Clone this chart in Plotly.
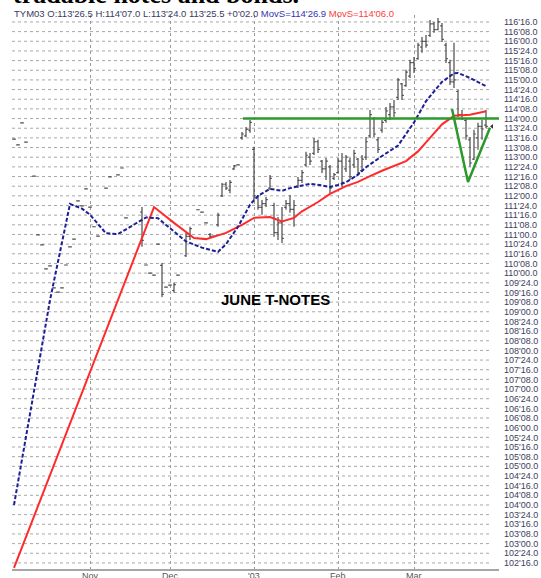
import plotly.graph_objects as go

# ---- bar data (trading-day index, OHLC) ----
day = [3, 4, 5, 6, 8, 9, 10, 11, 12, 13, 14, 15, 16, 17, 18, 19, 20, 21, 22, 23, 24, 26, 27, 29, 30, 31,
       35, 36, 37, 38, 39, 40, 41, 42, 43, 44, 46, 47, 49, 50, 51, 52, 53, 54, 55, 56, 57, 58, 59,
       60, 61, 62, 63, 64, 65, 66, 67, 68, 69, 70, 71, 72, 73, 74, 75, 76, 77, 78, 79, 80,
       81, 82, 83, 84, 85, 86, 87, 88, 89, 90, 91, 92, 93, 94, 95, 96, 97, 98, 99, 100,
       101, 102, 103, 104, 105, 106, 107, 108, 109, 110, 111, 112, 113, 114, 115, 116, 117, 118, 119, 120, 121]

open_ = [113.47, 113.32, 113.89, 113.39, 112.51, 110.99, 110.73, 110.11, 110.19, 109.62, 109.51, 109.62, 110.21,
         110.68, 110.88, 111.87, 111.74, 112.18, 111.71, 111.20, 110.96, 112.20, 112.49, 112.54, 112.72, 111.43,
         111.58, 110.21, 110.00, 109.95, 110.75, 110.20, 109.64, 109.69, 109.55, 109.95, 110.45, 110.95, 111.64,
         111.58, 111.30, 111.00, 110.96, 111.25, 112.00, 112.30, 112.15, 112.70, 112.80,
         113.50, 113.55, 113.70, 113.20, 111.95, 111.70, 111.80, 112.20, 111.75, 111.05, 111.30, 111.70, 111.80,
         111.65, 112.25, 112.40, 112.80, 113.00, 113.10, 113.40, 112.90,
         112.70, 112.75, 112.45, 112.60, 112.90, 112.70, 112.90, 112.80, 112.95, 112.65, 113.00, 113.55, 114.00,
         113.45, 113.70, 113.95, 114.10, 114.30, 114.55, 114.90,
         114.85, 115.10, 115.45, 115.55, 115.85, 116.00, 116.15, 116.45, 116.30, 116.40, 115.90, 115.45, 114.95,
         114.70, 114.10, 113.95, 113.45, 112.95, 113.50, 113.80, 113.828125]

high = [113.47, 113.32, 113.89, 113.39, 112.51, 110.99, 110.73, 110.11, 110.19, 109.62, 109.51, 109.62, 110.21,
        110.68, 110.88, 111.87, 111.74, 112.18, 111.71, 111.20, 110.96, 112.20, 112.49, 112.54, 112.72, 111.43,
        111.71, 110.21, 110.00, 109.95, 110.75, 110.26, 109.64, 109.69, 109.75, 109.95, 111.04, 111.20, 111.64,
        111.58, 111.30, 111.04, 110.96, 111.56, 112.33, 112.36, 112.41, 112.80, 112.80,
        113.65, 113.78, 113.96, 113.27, 112.02, 111.89, 111.97, 112.54, 111.82, 111.45, 111.71, 111.89, 112.02,
        111.89, 112.49, 112.67, 113.14, 113.11, 113.50, 113.45, 112.93,
        112.98, 112.80, 112.59, 112.98, 113.11, 113.06, 112.98, 113.19, 112.98, 113.06, 113.52, 114.22, 114.04,
        113.52, 113.96, 114.30, 114.40, 114.48, 115.05, 114.92,
        115.26, 115.52, 115.59, 115.96, 116.11, 116.16, 116.55, 116.50, 116.60, 116.47, 115.96, 115.52, 115.96,
        114.74, 114.22, 114.01, 113.52, 113.71, 113.89, 113.96, 114.21875]

low = [113.47, 113.32, 113.89, 113.39, 112.51, 110.99, 110.73, 110.11, 110.19, 109.62, 109.51, 109.62, 110.21,
       110.68, 110.88, 111.87, 111.74, 112.18, 111.71, 111.20, 110.96, 112.20, 112.49, 112.54, 112.72, 111.43,
       110.68, 110.21, 110.00, 109.95, 110.75, 109.38, 109.64, 109.69, 109.49, 109.95, 110.42, 110.86, 111.64,
       111.58, 111.30, 110.91, 110.96, 111.20, 111.97, 112.15, 112.07, 112.67, 112.80,
       113.45, 113.52, 113.63, 111.89, 111.64, 111.51, 111.71, 112.15, 110.94, 110.86, 110.78, 111.64, 111.56,
       111.20, 112.20, 112.33, 112.75, 112.80, 113.06, 113.11, 112.59,
       112.41, 112.07, 112.41, 112.59, 112.23, 112.62, 112.41, 112.72, 112.54, 112.62, 112.93, 113.50, 113.52,
       113.11, 113.63, 113.89, 113.96, 114.04, 114.48, 114.48,
       114.82, 115.05, 115.18, 115.52, 115.70, 115.83, 116.11, 116.22, 116.29, 115.98, 115.44, 114.87, 114.79,
       114.04, 113.96, 113.45, 112.75, 112.93, 113.19, 113.45, 113.75]

close = [113.47, 113.32, 113.89, 113.39, 112.51, 110.99, 110.73, 110.11, 110.19, 109.62, 109.51, 109.62, 110.21,
         110.68, 110.88, 111.87, 111.74, 112.18, 111.71, 111.20, 110.96, 112.20, 112.49, 112.54, 112.72, 111.43,
         110.85, 110.21, 110.00, 109.95, 110.75, 109.45, 109.64, 109.69, 109.70, 109.95, 110.95, 111.15, 111.64,
         111.58, 111.30, 110.95, 110.96, 111.50, 112.30, 112.20, 112.35, 112.78, 112.80,
         113.60, 113.72, 113.90, 112.00, 111.70, 111.80, 111.90, 112.45, 111.05, 111.30, 110.90, 111.80, 111.65,
         111.75, 112.40, 112.60, 113.05, 112.90, 113.40, 113.20, 112.70,
         112.90, 112.20, 112.55, 112.90, 112.35, 113.00, 112.50, 113.10, 112.60, 112.95, 113.40, 114.10, 113.60,
         113.20, 113.90, 114.20, 114.30, 114.15, 115.00, 114.60,
         115.20, 115.45, 115.30, 115.90, 116.00, 115.90, 116.45, 116.30, 116.50, 116.05, 115.55, 114.95, 115.00,
         114.10, 114.00, 113.55, 112.85, 113.60, 113.80, 113.73, 113.796875]

# ---- moving averages ----
fast_x = [3, 12, 17, 20, 22, 26, 29, 33, 36, 39, 42, 46, 50, 54, 56, 59, 62, 64, 67, 70, 72, 75, 77, 80,
          82, 84, 86, 89, 91, 95, 99, 103, 106, 110, 113, 114, 117, 121]
fast_y = [104.00, 109.30, 111.79, 111.67, 111.51, 111.03, 111.01, 111.25, 111.44, 111.42, 111.17, 110.82,
          110.66, 110.55, 110.75, 111.20, 111.77, 112.00, 112.18, 112.13, 112.20, 112.26, 112.31, 112.27,
          112.23, 112.28, 112.35, 112.55, 112.74, 113.03, 113.30, 113.90, 114.45, 114.95, 115.17, 115.18,
          115.05, 114.84]

slow_x = [3, 38, 43, 48, 51, 56, 60, 63, 67, 70, 73, 75, 79, 82, 86, 89, 92, 95, 101, 104, 107, 110, 113, 117, 121]
slow_y = [102.37, 111.71, 111.30, 110.91, 110.88, 111.04, 111.25, 111.43, 111.45, 111.34, 111.43, 111.60,
          111.84, 112.05, 112.25, 112.36, 112.51, 112.65, 112.90, 113.15, 113.50, 113.85, 114.07, 114.10, 114.1875]

# ---- trend lines ----
resist_x = [60.25, 125]
resist_y = [114.00, 114.00]
vee_x = [112.5, 116.5, 122]
vee_y = [114.25, 112.36, 113.76]

# ---- axes ----
month_pos = [22, 42, 63, 84, 103]
month_lab = ["Nov", "Dec", "'03", "Feb", "Mar"]
price_ticks = [102.5 + 0.25 * k for k in range(57)]
price_text = [f"{int(v)}'{round((v - int(v)) * 32):02d}.0" for v in price_ticks]

header = ("<span style='color:#3a3a62'>TYM03 O:113'26.5 H:114'07.0 L:113'24.0 113'25.5 +0'02.0 </span>"
          "<span style='color:#3434b4'>MovS=114'26.9</span> "
          "<span style='color:#ff3c3c'>MovS=114'06.0</span>")

X0, X1 = 2.5, 124.25
Y0, Y1 = 102.343, 116.68
PLOT_H = 554.0

fig = go.Figure()

fig.add_trace(go.Ohlc(
    x=day, open=open_, high=high, low=low, close=close,
    increasing=dict(line=dict(color="#4a4a4a", width=1.2)),
    decreasing=dict(line=dict(color="#4a4a4a", width=1.2)),
    tickwidth=0.45, showlegend=False, hoverinfo="skip"))

fig.add_trace(go.Scatter(x=slow_x, y=slow_y, mode="lines",
                         line=dict(color="#ff2b2b", width=2), showlegend=False, hoverinfo="skip"))
fig.add_trace(go.Scatter(x=fast_x, y=fast_y, mode="lines",
                         line=dict(color="#1e1e98", width=2, dash="4px,2px"), showlegend=False, hoverinfo="skip"))
fig.add_trace(go.Scatter(x=resist_x, y=resist_y, mode="lines",
                         line=dict(color="#2b9a2b", width=2.5), showlegend=False, hoverinfo="skip"))
fig.add_trace(go.Scatter(x=vee_x, y=vee_y, mode="lines",
                         line=dict(color="#2b9a2b", width=2.5), showlegend=False, hoverinfo="skip"))
fig.add_trace(go.Scatter(x=[day[-1] + 1.5], y=[close[-1]], mode="markers",
                         marker=dict(symbol="triangle-left", size=4, color="#333333"),
                         showlegend=False, hoverinfo="skip"))

shapes = []
for v in price_ticks:
    shapes.append(dict(type="line", xref="x", yref="y", x0=X0, x1=122, y0=v, y1=v,
                       line=dict(color="#a8a8a8", width=1, dash="dot"), layer="below"))

annotations = [
    dict(text=header, xref="paper", yref="paper", x=0, y=(569 - 14) / PLOT_H,
         xanchor="left", yanchor="middle", showarrow=False,
         font=dict(family="Liberation Sans, Arial", size=9.5)),
    dict(text="<b>tradable notes and bonds.</b>", xref="paper", yref="paper", x=-0.002,
         y=(569 - 11) / PLOT_H, xanchor="left", yanchor="bottom", showarrow=False,
         font=dict(family="Liberation Serif, Times New Roman", size=26, color="black")),
    dict(text="<b>JUNE T-NOTES</b>", xref="x", yref="y", x=68.25, y=109.31,
         xanchor="center", yanchor="middle", showarrow=False,
         font=dict(family="Liberation Sans, Arial", size=15, color="black")),
]
for pos, lab in zip(month_pos, month_lab):
    annotations.append(dict(text=lab, xref="x", yref="paper", x=pos, y=(569 - 575.5) / PLOT_H,
                            xanchor="center", yanchor="middle", showarrow=False,
                            font=dict(family="Liberation Sans, Arial", size=9, color="#555555")))

fig.update_layout(
    width=541, height=578,
    margin=dict(l=12, r=42, t=15, b=9),
    paper_bgcolor="white", plot_bgcolor="white",
    shapes=shapes,
    annotations=annotations,
    xaxis=dict(range=[X0, X1], tickvals=month_pos, showticklabels=False,
               showgrid=True, gridcolor="#9a9a9a", griddash="dot", gridwidth=1,
               zeroline=False, showline=True, linecolor="#a6a6a6", linewidth=2,
               ticks="", rangeslider=dict(visible=False), automargin=False, fixedrange=True),
    yaxis=dict(range=[Y0, Y1], side="right", tickvals=price_ticks, ticktext=price_text,
               showgrid=False, zeroline=False, showline=False, ticks="",
               ticklabelstandoff=4,
               tickfont=dict(family="Liberation Sans, Arial", size=9, color="#3e3e60"),
               automargin=False, fixedrange=True),
)

fig.write_html("out.html", config={"displayModeBar": False, "staticPlot": True},
               post_script="document.body.style.margin='0px';document.body.style.overflow='hidden';")
